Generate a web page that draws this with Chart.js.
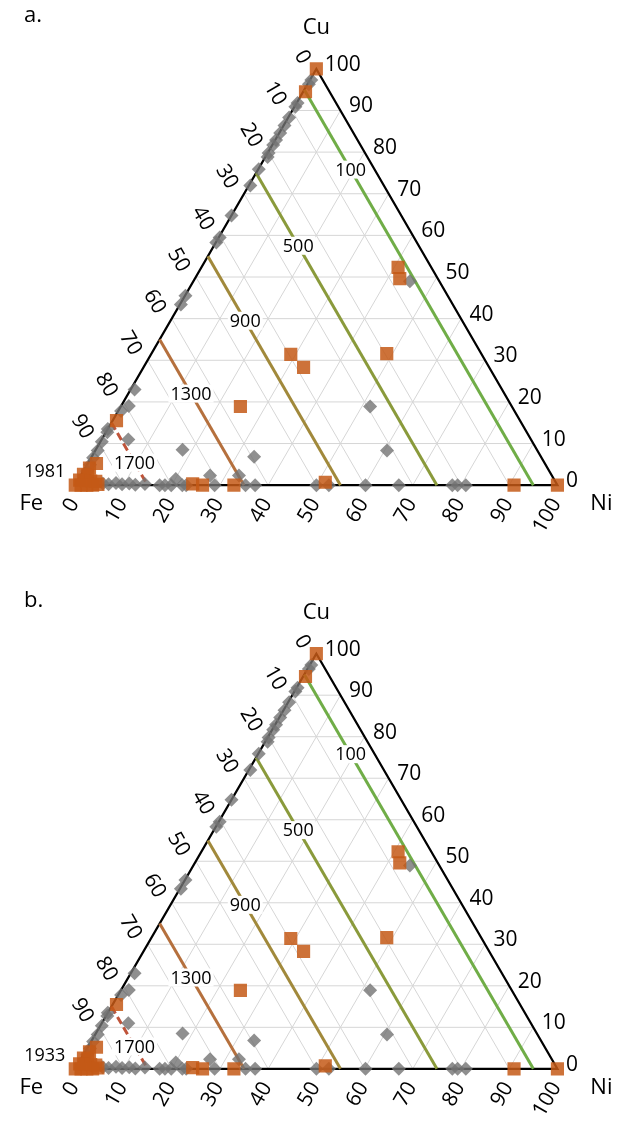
<!DOCTYPE html>
<html>
<head>
<meta charset="utf-8">
<title>Fe–Cu–Ni ternary</title>
<script src="https://cdn.jsdelivr.net/npm/chart.js@4.4.1/dist/chart.umd.min.js"></script>
<style>
  html, body { margin: 0; padding: 0; background: #ffffff; }
  canvas { display: block; }
</style>
</head>
<body>
<canvas id="panelA" width="623" height="585" style="width:623px;height:585px"></canvas>
<canvas id="panelB" width="623" height="539" style="width:623px;height:539px"></canvas>
<script>
// Sample compositions in at.% (Fe = 100 - Ni - Cu)
const squareNi = [0, 0.5, 40.8, 42.5, 29.0, 33.2, 48.8, 24.8, 0.8, 24.2, 26.4, 32.9, 51.5, 91, 100,
  1.8, 0.9, 0.4, 1.4, 0.3, 1.5, 2.7, 3.8, 0, 1.2, 2.4, 3.6, 4.6];
const squareCu = [100, 94.5, 52.3, 49.6, 31.4, 28.3, 31.6, 18.9, 15.5, 0.3, 0, 0, 0.7, 0, 0,
  5.2, 4.1, 2.6, 2.4, 1.2, 1.1, 1.0, 0.9, 0, 0, 0, 0, 0.2];

const diamondNi = [0.3, 0.3, 0.2, 0.2, 0.2, 0.2, 0.2, 0.2, 0.2, 0.2, 0.5, 0.1, 0.3, 0, 0.2, 0.1, 0.1, 0.2,
  0.8, 1.6, 0.6, 0, 0.3, 0.3, 0.5, 0.4, 0.6, 0.8,
  5.5, 18, 33.7, 60.5, 51.7, 44.9, 20.1, 26.8, 32.8,
  5.5, 6.8, 8.2, 9.6, 11, 12.4, 14.3, 17.5, 18.6, 19.9, 22.2, 23, 28.9, 35.3, 37.3, 50, 52.6, 60.2, 67.1, 78.2, 79.3, 81];
const diamondCu = [97.3, 96.3, 91.8, 90.9, 88.3, 86.4, 84.6, 82.9, 81.7, 79.8, 78.8, 75.9, 72.0, 64.8, 59.5, 58.3, 45.5, 43.4,
  23.0, 19.0, 17.8, 13.5, 12.7, 10.4, 8.3, 6.6, 4.9, 3.4,
  11, 8.5, 6.8, 8.3, 18.9, 49.0, 1.5, 2.3, 2.3,
  0.4, 0.2, 0.5, 0.2, 0.4, 0.1, 0.3, 0, 0, 0, 0, 0, 0, 0, 0, 0, 0, 0, 0, 0, 0, 0];

// Isotherms: temperature and the Fe content of each line
const isoTemps = [100, 500, 900, 1300, 1700];
const isoFe = [5, 25, 45, 65, 85];
const isoColors = ['#70ad47', '#8a9a3b', '#a1893b', '#b5703d', '#c0543a'];

const tickValues = [0, 10, 20, 30, 40, 50, 60, 70, 80, 90, 100];
const panelLetters = ['a.', 'b.'];
const cornerTemps = ['1981', '1933'];

// Placement of the isotherm captions along their line (Cu at.%)
const isoLabelCu = [75.8, 57.5, 39.5, 22, 5.4];

// Plane geometry of the triangle
const ORIGIN_X = 68, BASE_Y = 491.5, PX_PER_X = 4.97, PX_PER_Y = 4.30;
const toXY = (ni, cu) => ({ x: ni + cu / 2, y: cu });
const GAP = { x: 0, y: null };

function gridPoints() {
  const pts = [];
  for (let k = 10; k < 100; k += 10) {
    pts.push(toXY(0, k), toXY(100 - k, k), GAP);          // constant Cu
    pts.push(toXY(k, 0), toXY(k, 100 - k), GAP);          // constant Ni
    pts.push(toXY(100 - k, 0), toXY(0, 100 - k), GAP);    // constant Fe
  }
  return pts;
}

const FONT = '"Open Sans", "Noto Sans", sans-serif';

const ternaryText = {
  id: 'ternaryText',
  afterDatasetsDraw(chart, args, opts) {
    const { ctx, scales: { x, y } } = chart;
    const P = (ni, cu) => {
      const p = toXY(ni, cu);
      return [x.getPixelForValue(p.x), y.getPixelForValue(p.y)];
    };
    ctx.save();
    ctx.fillStyle = '#000';

    // isotherm captions on a white ground
    ctx.font = '18px ' + FONT;
    ctx.textAlign = 'center';
    ctx.textBaseline = 'middle';
    isoTemps.forEach((t, i) => {
      const cu = isoLabelCu[i];
      const [px, py] = P(100 - isoFe[i] - cu, cu);
      const w = ctx.measureText(String(t)).width + 4;
      ctx.fillStyle = '#fff';
      ctx.fillRect(px - w / 2, py - 9, w, 18);
      ctx.fillStyle = '#000';
      ctx.fillText(String(t), px, py + 1);
    });
    // temperature at the Fe corner
    {
      const [px, py] = P(0, 0);
      ctx.fillText(opts.cornerTemp, px - 30.5, py - 13);
    }

    ctx.font = '21px ' + FONT;
    // Ni axis (bottom)
    tickValues.forEach(v => {
      const [px, py] = P(v, 0);
      ctx.save();
      ctx.translate(px - 1, py + 15);
      ctx.rotate(-Math.PI / 3);
      ctx.textAlign = 'right';
      ctx.textBaseline = 'middle';
      ctx.fillText(String(v), 0, 0);
      ctx.restore();
    });
    // Fe axis (left)
    tickValues.slice(0, 10).forEach(v => {
      const [px, py] = P(0, 100 - v);
      ctx.save();
      ctx.translate(px - 13 * 0.866, py - 13 * 0.5);
      ctx.rotate(Math.PI / 3);
      ctx.textAlign = 'right';
      ctx.textBaseline = 'middle';
      ctx.fillText(String(v), 0, 0);
      ctx.restore();
    });
    // Cu axis (right)
    ctx.textAlign = 'left';
    ctx.textBaseline = 'middle';
    tickValues.forEach(v => {
      const [px, py] = P(100 - v, v);
      ctx.fillText(String(v), px + 8.5, py - 4);
    });

    // component names
    ctx.font = '22px ' + FONT;
    ctx.textAlign = 'center';
    {
      const [cx, cy] = P(0, 100);
      ctx.fillText('Cu', cx, cy - 41);
      const [fx, fy] = P(0, 0);
      ctx.fillText('Fe', fx - 44, fy + 18.5);
      const [nx, ny] = P(100, 0);
      ctx.fillText('Ni', nx + 44, ny + 18.5);
    }
    ctx.textAlign = 'left';
    ctx.fillText(opts.letter, 24, 16);
    ctx.restore();
  }
};

function buildPanel(canvasId, letter, cornerTemp) {
  const canvas = document.getElementById(canvasId);
  const W = canvas.width, H = canvas.height;
  const squares = squareNi.map((ni, i) => toXY(ni, squareCu[i]));
  const diamonds = diamondNi.map((ni, i) => toXY(ni, diamondCu[i]));

  const datasets = [
    { data: squares, pointStyle: 'rect', pointRadius: 9.3, borderWidth: 0,
      backgroundColor: 'rgba(196,89,22,0.85)', order: 1 },
    { data: diamonds, pointStyle: 'rectRot', pointRadius: 7, borderWidth: 0,
      backgroundColor: 'rgba(115,115,115,0.8)', order: 2 },
  ];
  isoFe.forEach((fe, i) => {
    datasets.push({
      data: [toXY(0, 100 - fe), toXY(100 - fe, 0)],
      showLine: true, pointRadius: 0, borderWidth: 3,
      borderColor: isoColors[i], borderDash: i === 4 ? [8, 4] : [],
      order: 3
    });
  });
  datasets.push({
    data: [toXY(0, 0), toXY(100, 0), toXY(0, 100), toXY(0, 0)],
    showLine: true, pointRadius: 0, borderWidth: 2.2, borderColor: '#000',
    borderJoinStyle: 'miter', order: 4
  });
  datasets.push({
    data: gridPoints(), showLine: true, pointRadius: 0, borderWidth: 1,
    borderColor: '#d6d6d6', spanGaps: false, order: 5
  });

  return new Chart(canvas, {
    type: 'scatter',
    data: { datasets },
    options: {
      responsive: false,
      animation: false,
      devicePixelRatio: 1,
      events: [],
      layout: { padding: 0 },
      plugins: {
        legend: { display: false },
        tooltip: { enabled: false },
        ternaryText: { letter, cornerTemp }
      },
      scales: {
        x: { type: 'linear', display: false,
             min: -ORIGIN_X / PX_PER_X, max: (W - ORIGIN_X) / PX_PER_X },
        y: { type: 'linear', display: false,
             min: -(H - BASE_Y) / PX_PER_Y, max: BASE_Y / PX_PER_Y }
      }
    },
    plugins: [ternaryText]
  });
}

buildPanel('panelA', panelLetters[0], cornerTemps[0]);
buildPanel('panelB', panelLetters[1], cornerTemps[1]);
</script>
</body>
</html>
